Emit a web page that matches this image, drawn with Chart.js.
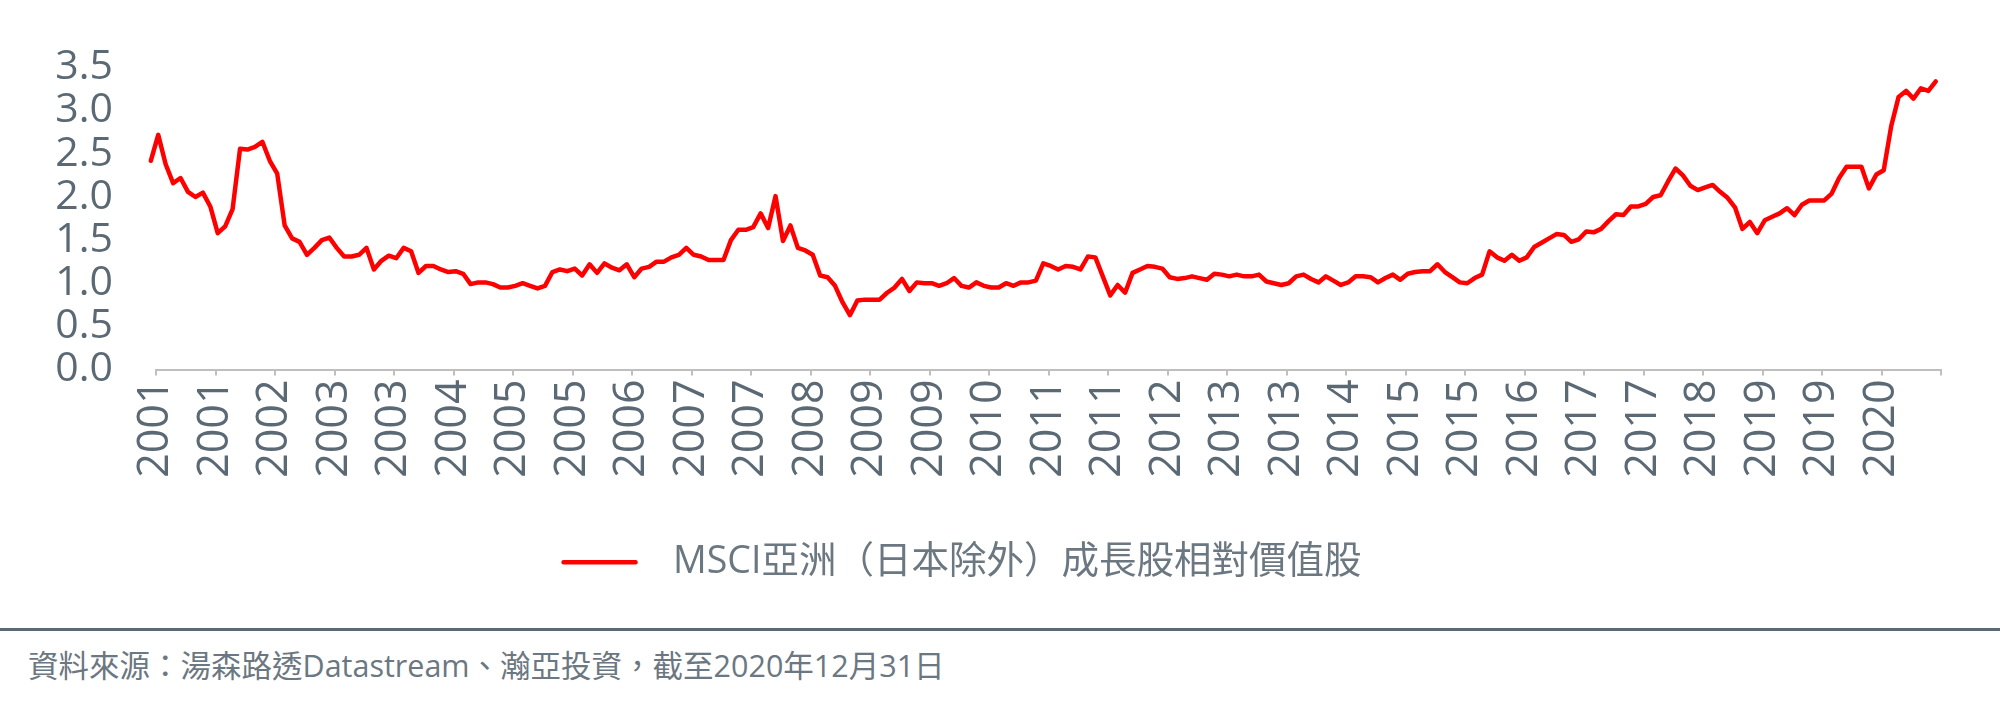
<!DOCTYPE html>
<html lang="zh-Hant">
<head>
<meta charset="utf-8">
<title>MSCI亞洲（日本除外）成長股相對價值股</title>
<script src="https://cdn.jsdelivr.net/npm/chart.js@4.4.1/dist/chart.umd.min.js"></script>
<style>
  html, body { margin: 0; padding: 0; background: #fff; }
  body { width: 2000px; height: 713px; overflow: hidden; font-family: "Open Sans", "Noto Sans CJK TC", sans-serif; }
  #wrap { position: relative; width: 2000px; height: 625px; }
  .rule { position: absolute; left: 0; top: 628px; width: 2000px; height: 3px; background: #5c6975; }
  .source { position: absolute; left: 28px; top: 645px; font-size: 30.5px; line-height: 40px; color: #6b7781; white-space: nowrap; }
</style>
</head>
<body>
<div id="wrap"><canvas id="chart" width="2000" height="625"></canvas></div>
<div class="rule"></div>
<div class="source">資料來源：湯森路透Datastream、瀚亞投資，截至2020年12月31日</div>
<script>
const seriesName = 'MSCI亞洲（日本除外）成長股相對價值股';

// month-end values, Dec 2000 .. Dec 2020
const ratio = [
  2.42, 2.72, 2.38, 2.16, 2.22, 2.06, 2.00, 2.05, 1.89, 1.58, 1.66, 1.86, 2.56, 2.55, 2.58,
  2.64, 2.42, 2.27, 1.67, 1.52, 1.48, 1.33, 1.41, 1.50, 1.53, 1.41, 1.31, 1.31, 1.33, 1.41,
  1.16, 1.26, 1.32, 1.29, 1.41, 1.37, 1.12, 1.20, 1.20, 1.16, 1.13, 1.14, 1.11, 0.99, 1.01,
  1.01, 0.99, 0.95, 0.95, 0.97, 1.00, 0.97, 0.94, 0.97, 1.13, 1.16, 1.14, 1.17, 1.09, 1.22,
  1.12, 1.23, 1.18, 1.15, 1.22, 1.07, 1.17, 1.19, 1.25, 1.25, 1.30, 1.33, 1.41, 1.33, 1.31,
  1.27, 1.27, 1.27, 1.50, 1.62, 1.62, 1.65, 1.81, 1.64, 2.01, 1.49, 1.67, 1.41, 1.38, 1.33,
  1.09, 1.07, 0.97, 0.78, 0.63, 0.80, 0.81, 0.81, 0.81, 0.89, 0.95, 1.05, 0.91, 1.01, 1.00,
  1.00, 0.97, 1.00, 1.06, 0.97, 0.95, 1.01, 0.97, 0.95, 0.95, 1.00, 0.97, 1.01, 1.01, 1.03,
  1.23, 1.20, 1.16, 1.20, 1.19, 1.16, 1.31, 1.30, 1.08, 0.86, 0.98, 0.89, 1.12, 1.16, 1.20,
  1.19, 1.17, 1.07, 1.05, 1.06, 1.08, 1.06, 1.04, 1.11, 1.10, 1.08, 1.10, 1.08, 1.08, 1.10,
  1.02, 1.00, 0.98, 1.00, 1.08, 1.10, 1.05, 1.01, 1.08, 1.03, 0.98, 1.01, 1.08, 1.08, 1.07,
  1.01, 1.06, 1.10, 1.04, 1.11, 1.13, 1.14, 1.14, 1.22, 1.13, 1.07, 1.01, 1.00, 1.06, 1.10,
  1.37, 1.30, 1.26, 1.33, 1.26, 1.30, 1.42, 1.47, 1.52, 1.57, 1.56, 1.48, 1.51, 1.60, 1.59,
  1.63, 1.72, 1.80, 1.79, 1.89, 1.89, 1.92, 2.00, 2.02, 2.18, 2.33, 2.25, 2.13, 2.08, 2.11,
  2.14, 2.06, 1.99, 1.88, 1.63, 1.71, 1.58, 1.73, 1.77, 1.81, 1.87, 1.79, 1.91, 1.96, 1.96,
  1.96, 2.04, 2.22, 2.35, 2.35, 2.35, 2.10, 2.26, 2.31, 2.82, 3.16, 3.23, 3.14, 3.26, 3.23, 3.34
];

// one label every 8 months, starting Jan 2001
const tickYears = ['2001', '2001', '2002', '2003', '2003', '2004', '2005', '2005', '2006', '2007',
  '2007', '2008', '2009', '2009', '2010', '2011', '2011', '2012', '2013', '2013',
  '2014', '2015', '2015', '2016', '2017', '2017', '2018', '2019', '2019', '2020'];
const monthsPerTick = 8;
const firstPoint = -0.7; // Dec 2000 month-end sits just left of the first tick

const fontFamily = '"Open Sans", "Noto Sans CJK TC", sans-serif';
const tickColor = '#5b6975';

new Chart(document.getElementById('chart'), {
  type: 'line',
  data: {
    datasets: [{
      label: '\u2002' + seriesName, // a little extra room after the legend line
      data: ratio.map((v, i) => ({ x: i + firstPoint, y: v })),
      borderColor: '#ff0000',
      backgroundColor: '#ff0000',
      borderWidth: 4.5,
      borderJoinStyle: 'round',
      borderCapStyle: 'round',
      pointRadius: 0,
      tension: 0,
      clip: false
    }]
  },
  options: {
    responsive: false,
    animation: false,
    // negative left padding only nudges the centred legend; the y axis width makes up for it
    layout: { padding: { top: 62, right: 59, bottom: 34, left: -16 } },
    scales: {
      x: {
        type: 'linear',
        min: 0,
        max: tickYears.length * monthsPerTick,
        grid: { drawOnChartArea: false, color: '#bfbfbf', lineWidth: 2, tickLength: 6 },
        border: { color: '#bfbfbf', width: 2 },
        ticks: {
          stepSize: monthsPerTick,
          autoSkip: false,
          minRotation: 90,
          maxRotation: 90,
          padding: 4,
          color: tickColor,
          font: { family: fontFamily, size: 43 },
          callback: (v, i) => tickYears[i] || ''
        },
        afterFit: s => { s.height = 164; }
      },
      y: {
        min: 0,
        max: 3.5,
        grid: { display: false, drawTicks: false },
        border: { display: false },
        ticks: {
          stepSize: 0.5,
          autoSkip: false,
          padding: 43,
          color: tickColor,
          font: { family: fontFamily, size: 41 },
          callback: v => v.toFixed(1)
        },
        afterFit: s => { s.width = 172; }
      }
    },
    plugins: {
      legend: {
        position: 'bottom',
        labels: {
          boxWidth: 72,
          boxHeight: 0,
          padding: 10,
          color: '#6b7781',
          font: { family: fontFamily, size: 37.5 }
        }
      },
      tooltip: { enabled: false }
    }
  }
});
</script>
</body>
</html>
